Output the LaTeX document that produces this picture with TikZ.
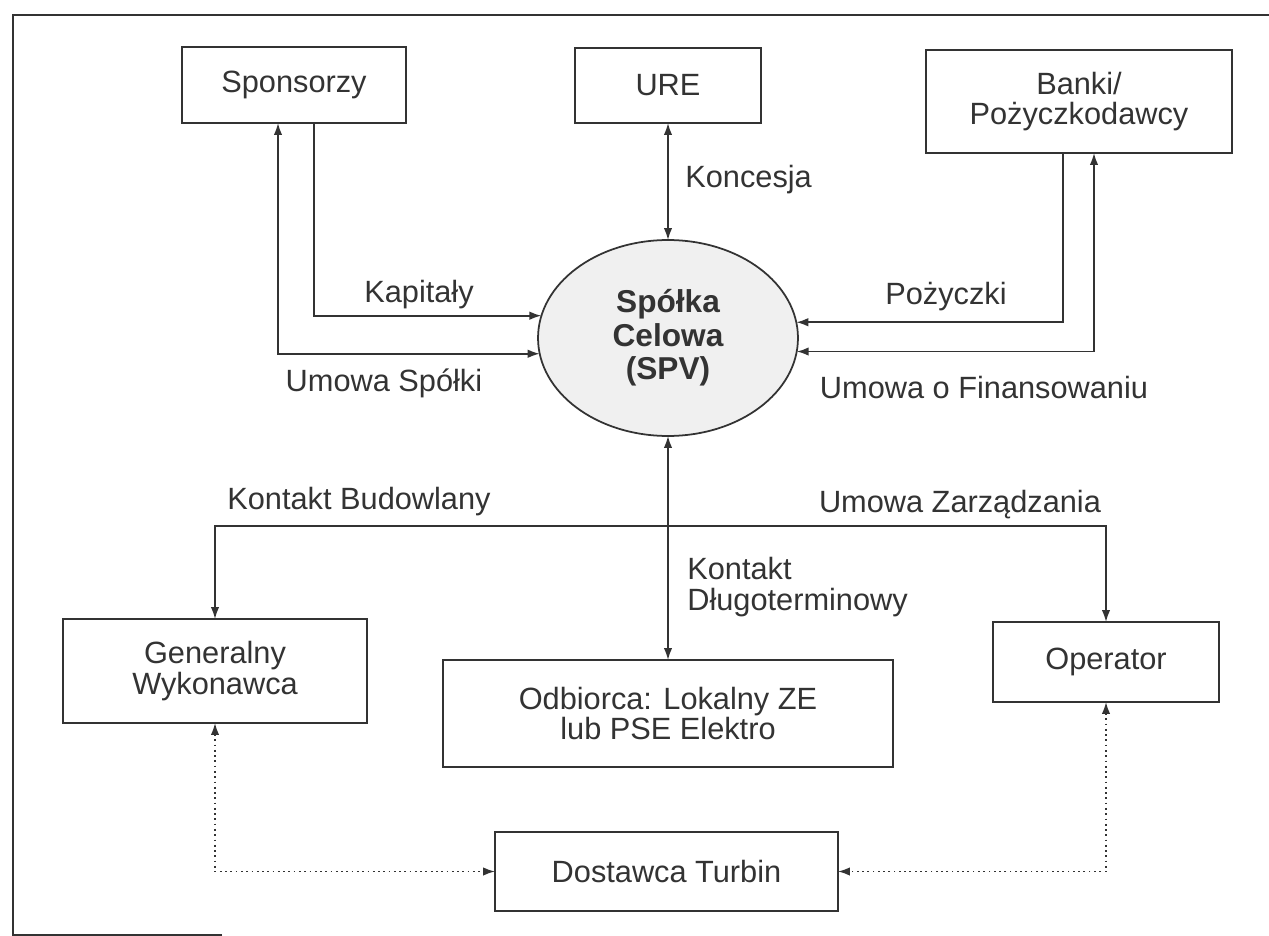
\documentclass[tikz,border=0pt]{standalone}
\usepackage{fontspec}
\setmainfont{Liberation Sans}
\usetikzlibrary{arrows.meta,shapes.geometric}
\definecolor{ink}{gray}{0.2}
\begin{document}
\begin{tikzpicture}[x=0.02cm,y=-0.02cm,
  every node/.style={text=ink,font=\fontsize{17.5}{17.5}\selectfont},
  box/.style={draw=ink,line width=1pt,rectangle,inner sep=0pt,outer sep=0pt,align=center},
  conn/.style={draw=ink,line width=1pt,-{Latex[length=2.4mm,width=1.7mm]}},
  bconn/.style={draw=ink,line width=1pt,{Latex[length=2.4mm,width=1.7mm]}-{Latex[length=2.4mm,width=1.7mm]}},
  dconn/.style={bconn,dotted,line width=1pt},
  lbl/.style={inner sep=0pt}]
\useasboundingbox (0,0) rectangle (1269,936);
\fill[white] (0,0) rectangle (1269,936);
% frame
\draw[ink,line width=1pt] (222,935) -- (13,935) -- (13,15) -- (1269,15);
% nodes
\node[box,minimum width=4.48cm,minimum height=1.52cm] (sp) at (294,85) {Sponsorzy};
\node[box,minimum width=3.72cm,minimum height=1.5cm] (ure) at (668,85.5) {URE};
\node[box,minimum width=6.12cm,minimum height=2.06cm] (bank) at (1079,101.5) {Banki/\\Pożyczkodawcy};
\node[draw=ink,line width=1pt,fill=gray!12,ellipse,inner sep=0pt,outer sep=0pt,
      minimum width=5.2cm,minimum height=3.92cm,align=center,
      font=\fontsize{18}{19}\selectfont\bfseries] (spv) at (668,338) {Spółka\\Celowa\\(SPV)};
\node[box,minimum width=6.08cm,minimum height=2.08cm] (gw) at (215,671) {Generalny\\Wykonawca};
\node[box,minimum width=9.0cm,minimum height=2.14cm] (odb) at (668,713.5) {Odbiorca: Lokalny ZE\\lub PSE Elektro};
\node[box,minimum width=4.52cm,minimum height=1.6cm] (op) at (1106,662) {Operator};
\node[box,minimum width=6.86cm,minimum height=1.58cm] (dost) at (666.5,871.5) {Dostawca Turbin};
\coordinate (bus) at (669,526);
% connectors
\draw[conn] ([xshift=0.4cm]sp.south) |- (spv.170.6);
\draw[bconn] ([xshift=-0.32cm]sp.south) |- (spv.187.6);
\draw[bconn] (ure.south) -- (spv.north);
\draw[conn] ([xshift=-0.32cm]bank.south) |- (spv.7.6);
\draw[bconn] ([xshift=0.3cm]bank.south) |- (spv.-6.2);
\draw[bconn] (spv.south) -- (odb.north);
\draw[bconn] (gw.north) |- (bus) -| (op.north);
\draw[dconn] (gw.south) |- (dost.west);
\draw[dconn] (op.south) |- (dost.east);
% labels
\node[lbl] (l1) at (419,295) {Kapitały};
\node[lbl] (l2) at (384,383) {Umowa Spółki};
\node[lbl,anchor=west] (l3) at (685,180) {Koncesja};
\node[lbl] (l4) at (946,297) {Pożyczki};
\node[lbl] (l5) at (984,388) {Umowa o Finansowaniu};
\node[lbl] (l6) at (359,502) {Kontakt Budowlany};
\node[lbl] (l7) at (960,505) {Umowa Zarządzania};
\node[lbl,anchor=west,align=left] (l8) at (687,587) {Kontakt\\Długoterminowy};
\end{tikzpicture}
\end{document}
